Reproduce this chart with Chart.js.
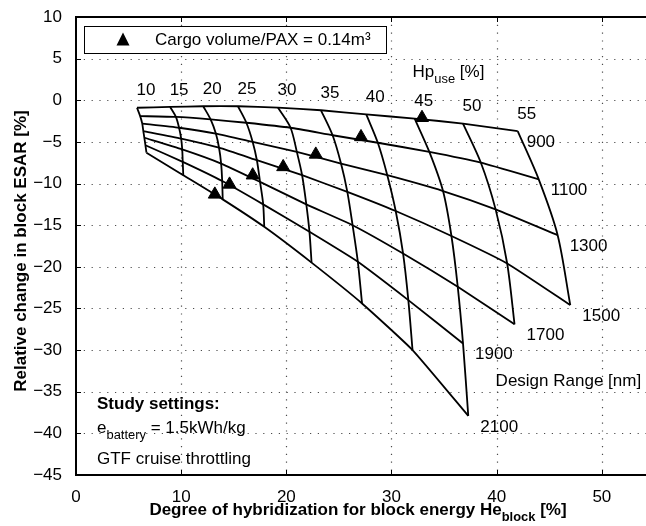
<!DOCTYPE html>
<html><head><meta charset="utf-8">
<script src="https://cdn.jsdelivr.net/npm/chart.js@4/dist/chart.umd.min.js"></script>
<style>html,body{margin:0;padding:0;background:#fff;overflow:hidden}</style>
</head><body>
<canvas id="c" width="646" height="526" style="width:646px;height:526px;display:block"></canvas>
<script>
// ---- data ----
const hpUse = [10, 15, 20, 25, 30, 35, 40, 45, 50, 55];           // Hp_use [%]
const designRange = [900, 1100, 1300, 1500, 1700, 1900, 2100];    // Design Range [nm]
// He_block [%] for each design range (rows) along Hp_use
const heBlock = [
  [5.8, 8.95, 12.1, 15.4, 19.2, 23.3, 27.6, 32.2, 36.8, 42.0],
  [6.1, 9.5, 12.8, 16.2, 20.4, 24.4, 28.7, 33.6, 38.5, 44.0],
  [6.3, 9.8, 13.3, 16.8, 21.0, 25.2, 29.6, 34.9, 39.9, 45.8],
  [6.4, 10.0, 13.6, 17.2, 21.5, 25.8, 30.4, 35.7, 41.0, 47.0],
  [6.5, 10.1, 13.8, 17.5, 21.9, 26.3, 31.1, 36.3, 41.7],
  [6.6, 10.15, 13.9, 17.8, 22.2, 26.8, 31.6, 36.8],
  [6.7, 10.2, 13.95, 17.9, 22.4, 27.2, 32.0, 37.3]
];
// Relative change in block ESAR [%]
const esarChange = [
  [-0.9, -0.8, -0.72, -0.72, -0.88, -1.2, -1.7, -2.2, -2.8, -3.7],
  [-1.9, -2.0, -2.3, -2.7, -3.3, -4.2, -5.1, -6.2, -7.5, -9.5],
  [-2.8, -3.3, -4.0, -5.0, -6.2, -7.6, -9.0, -10.9, -13.1, -16.2],
  [-3.7, -4.6, -5.7, -7.2, -9.0, -11.0, -13.3, -16.3, -19.6, -24.6],
  [-4.5, -5.9, -7.6, -9.8, -12.5, -15.0, -18.4, -22.4, -26.9],
  [-5.4, -7.4, -9.7, -12.5, -15.8, -19.4, -24.0, -29.2],
  [-6.3, -9.0, -11.9, -15.2, -19.5, -24.4, -30.0, -37.9]
];
// Cargo volume/PAX = 0.14 m3 points
const cargoHe = [13.2, 14.6, 16.8, 19.7, 22.8, 27.1, 32.9];
const cargoEsar = [-11.3, -10.1, -9.0, -8.0, -6.5, -4.4, -2.1];
const xTicks = [0, 10, 20, 30, 40, 50];
const yTicks = [10, 5, 0, -5, -10, -15, -20, -25, -30, -35, -40, -45];

// ---- build datasets ----
const FONT = '"Liberation Sans", Arial, Helvetica, sans-serif';
const datasets = [];
designRange.forEach((r, i) => {
  datasets.push({
    label: 'R' + r,
    data: heBlock[i].map((x, j) => ({x: x, y: esarChange[i][j]})),
    showLine: true, borderColor: '#000', borderWidth: 1.8, pointRadius: 0, tension: 0.15
  });
});
hpUse.forEach((h, j) => {
  const pts = [];
  designRange.forEach((r, i) => {
    if (heBlock[i][j] !== undefined) pts.push({x: heBlock[i][j], y: esarChange[i][j]});
  });
  datasets.push({
    label: 'Hp' + h, data: pts, showLine: true, borderColor: '#000',
    borderWidth: 1.8, pointRadius: 0, tension: 0.3
  });
});
datasets.push({
  label: 'Cargo', data: cargoHe.map((x, k) => ({x: x, y: cargoEsar[k]})),
  showLine: false, pointStyle: 'triangle', pointRadius: 7.5,
  backgroundColor: '#000', borderColor: '#000', borderWidth: 1
});

function rich(ctx, parts, x, y, align, size, bold) {
  const f = (s) => (bold ? 'bold ' : '') + s + 'px ' + FONT;
  let total = 0;
  parts.forEach(p => { ctx.font = f(p[1] ? size * 0.76 : size); total += ctx.measureText(p[0]).width; });
  let cx = align === 'center' ? x - total / 2 : (align === 'right' ? x - total : x);
  ctx.textAlign = 'left'; ctx.textBaseline = 'middle';
  parts.forEach(p => {
    const s = p[1] ? size * 0.76 : size;
    ctx.font = f(s);
    ctx.fillText(p[0], cx, p[1] ? y + size * 0.42 : y);
    cx += ctx.measureText(p[0]).width;
  });
}

const areaFix = {
  id: 'areaFix',
  afterLayout(chart) {
    const xs = chart.scales.x;
    chart.chartArea.right = chart.width;
    chart.chartArea.width = chart.chartArea.right - chart.chartArea.left;
    xs.right = chart.width;
    xs.width = xs.right - xs.left;
    xs.configure();
  }
};

const gridPlugin = {
  id: 'dotgrid',
  beforeDatasetsDraw(chart) {
    const ctx = chart.ctx, xs = chart.scales.x, ys = chart.scales.y, a = chart.chartArea;
    ctx.save();
    ctx.strokeStyle = 'rgba(0,0,0,0.7)'; ctx.lineWidth = 1.2; ctx.setLineDash([1.2, 6.6]);
    xTicks.forEach(v => {
      if (v === 0) return;
      const px = Math.round(xs.getPixelForValue(v)) + 0.5;
      ctx.beginPath(); ctx.moveTo(px, a.top); ctx.lineTo(px, a.bottom); ctx.stroke();
    });
    yTicks.forEach(v => {
      if (v === 10 || v === -45) return;
      const py = Math.round(ys.getPixelForValue(v)) + 0.5;
      ctx.beginPath(); ctx.moveTo(a.left, py); ctx.lineTo(a.right, py); ctx.stroke();
    });
    ctx.restore();
  }
};

const deco = {
  id: 'deco',
  afterDraw(chart) {
    const ctx = chart.ctx, xs = chart.scales.x, ys = chart.scales.y, a = chart.chartArea;
    ctx.save();
    ctx.fillStyle = '#000'; ctx.strokeStyle = '#000';
    // axes box
    ctx.lineWidth = 2;
    ctx.beginPath();
    ctx.moveTo(a.right + 2, a.top); ctx.lineTo(a.left, a.top); ctx.lineTo(a.left, a.bottom); ctx.lineTo(a.right + 2, a.bottom);
    ctx.stroke();
    // inner ticks
    ctx.lineWidth = 1;
    xTicks.forEach(v => {
      const px = Math.round(xs.getPixelForValue(v)) + 0.5;
      ctx.beginPath(); ctx.moveTo(px, a.bottom); ctx.lineTo(px, a.bottom - 5);
      ctx.moveTo(px, a.top); ctx.lineTo(px, a.top + 5); ctx.stroke();
    });
    yTicks.forEach(v => {
      const py = Math.round(ys.getPixelForValue(v)) + 0.5;
      ctx.beginPath(); ctx.moveTo(a.left, py); ctx.lineTo(a.left + 5, py); ctx.stroke();
    });
    // Hp_use labels at top nodes
    ctx.font = '17px ' + FONT; ctx.textAlign = 'center'; ctx.textBaseline = 'middle';
    hpUse.forEach((h, j) => {
      const px = xs.getPixelForValue(heBlock[0][j]), py = ys.getPixelForValue(esarChange[0][j]);
      ctx.fillText(String(h), px + 9, py - 17);
    });
    // design range labels at row ends
    ctx.textAlign = 'left';
    designRange.forEach((r, i) => {
      const n = heBlock[i].length - 1;
      const px = xs.getPixelForValue(heBlock[i][n]), py = ys.getPixelForValue(esarChange[i][n]);
      ctx.fillText(String(r), px + (i === 0 ? 9 : 12), py + 11);
    });
    ctx.fillText('Design Range [nm]', xs.getPixelForValue(39.9), ys.getPixelForValue(-33.8));
    rich(ctx, [['Hp', 0], ['use', 1], [' [%]', 0]], xs.getPixelForValue(32.0), ys.getPixelForValue(3.4), 'left', 17, false);
    // legend box
    ctx.fillStyle = '#fff'; ctx.lineWidth = 1;
    ctx.fillRect(84.5, 26.5, 302, 27);
    ctx.strokeRect(84.5, 26.5, 302, 27);
    ctx.fillStyle = '#000';
    ctx.beginPath();
    ctx.moveTo(123, 32.5); ctx.lineTo(129.5, 45.5); ctx.lineTo(116.5, 45.5); ctx.closePath(); ctx.fill();
    rich(ctx, [['Cargo volume/PAX = 0.14m\u00b3', 0]], 155, 40.5, 'left', 17, false);
    // study settings
    rich(ctx, [['Study settings:', 0]], 97, 404, 'left', 17, true);
    rich(ctx, [['e', 0], ['battery', 1], [' = 1.5kWh/kg', 0]], 97, 428, 'left', 17, false);
    rich(ctx, [['GTF cruise throttling', 0]], 97, 459, 'left', 17, false);
    // axis titles
    rich(ctx, [['Degree of hybridization for block energy He', 0], ['block', 1], [' [%]', 0]], 358, 510, 'center', 17, true);
    ctx.translate(21, 251); ctx.rotate(-Math.PI / 2);
    rich(ctx, [['Relative change in block ESAR [%]', 0]], 0, 0, 'center', 17, true);
    ctx.restore();
  }
};

new Chart(document.getElementById('c'), {
  type: 'scatter',
  data: {datasets: datasets},
  options: {
    responsive: false, animation: false, devicePixelRatio: 1,
    layout: {padding: {top: 17, right: 0, left: 0, bottom: 0}},
    plugins: {legend: {display: false}, tooltip: {enabled: false}},
    scales: {
      x: {
        type: 'linear', min: 0, max: 54.2,
        afterBuildTicks: s => { s.ticks = xTicks.map(v => ({value: v})); },
        afterFit: s => { s.height = 51; s.paddingLeft = 0; s.paddingRight = 0; },
        grid: {display: false},
        border: {display: false},
        ticks: {color: '#000', font: {size: 17, family: FONT}, padding: 4, maxRotation: 0,
          callback: v => String(v)}
      },
      y: {
        type: 'linear', min: -45, max: 10,
        afterBuildTicks: s => { s.ticks = yTicks.map(v => ({value: v})); },
        afterFit: s => { s.width = 76; s.paddingTop = 0; s.paddingBottom = 0; },
        grid: {display: false},
        border: {display: false},
        ticks: {color: '#000', font: {size: 17, family: FONT}, padding: 6,
          callback: v => (v < 0 ? '\u2212' + Math.abs(v) : String(v))}
      }
    }
  },
  plugins: [areaFix, gridPlugin, deco]
});
</script>
</body></html>
